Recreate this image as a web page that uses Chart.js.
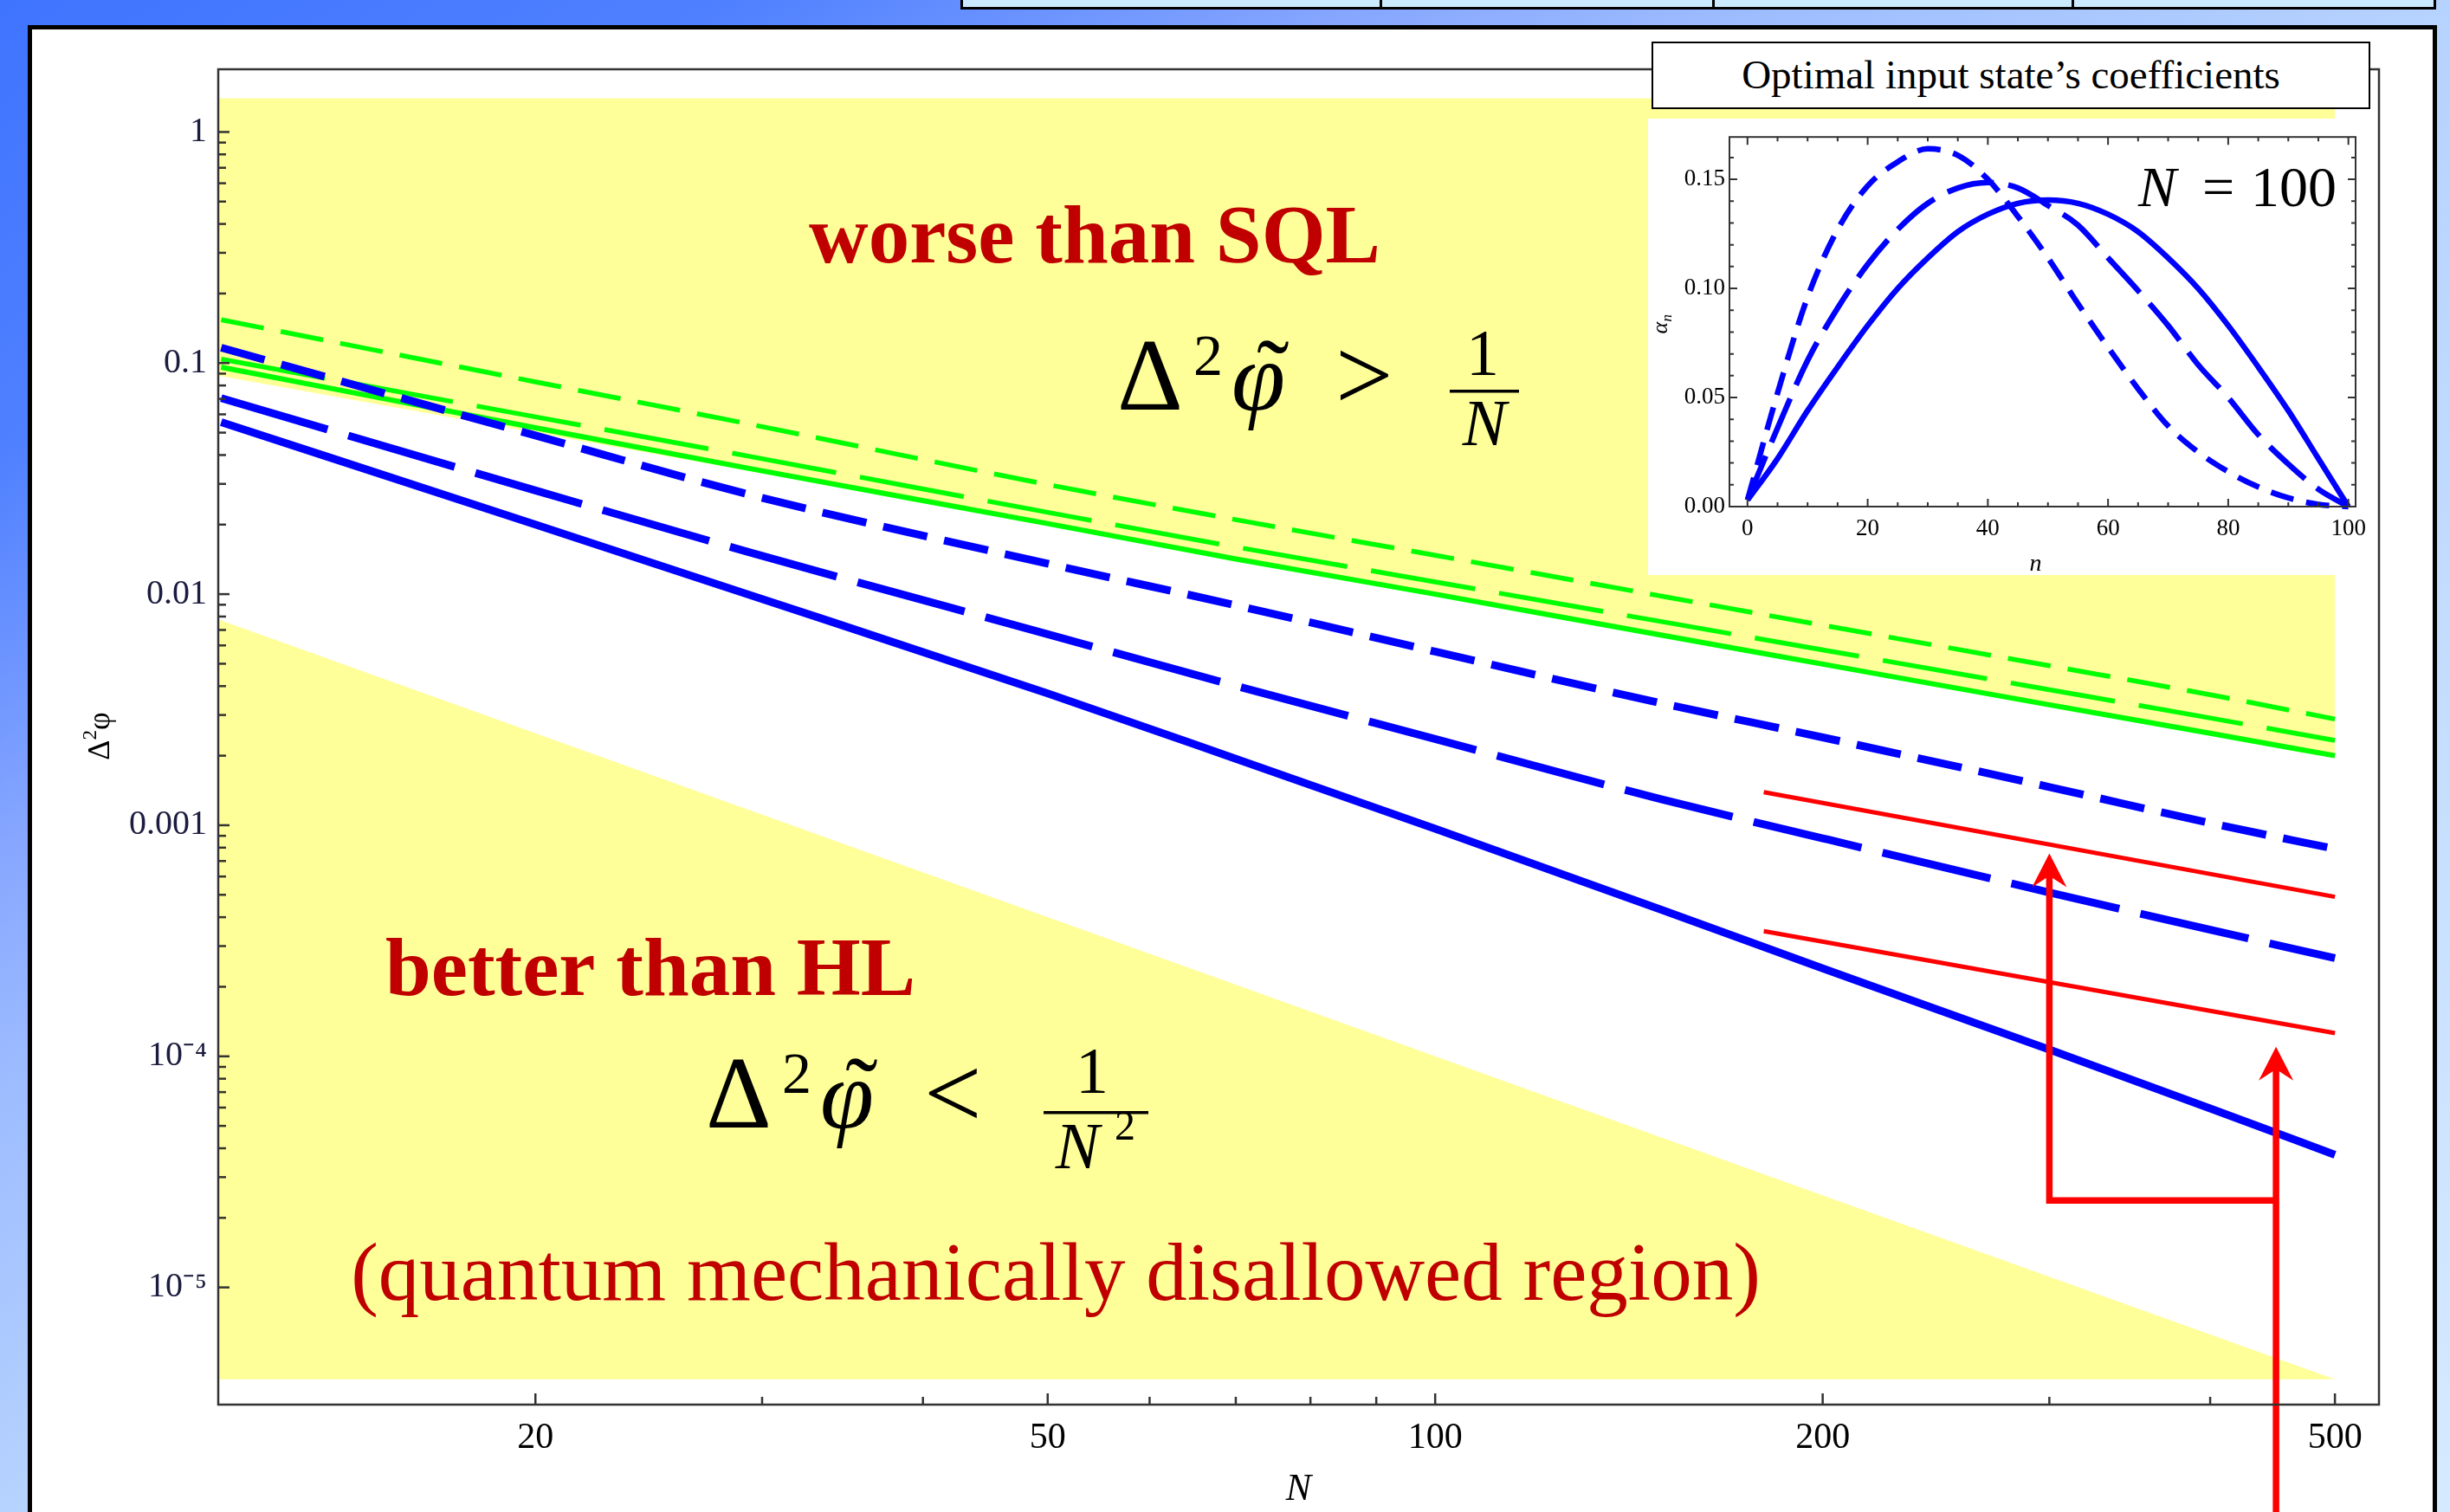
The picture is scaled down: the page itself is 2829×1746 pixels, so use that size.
<!DOCTYPE html>
<html>
<head>
<meta charset="utf-8">
<title>Phase sensitivity vs N</title>
<script src="https://cdn.jsdelivr.net/npm/chart.js@4.4.1/dist/chart.umd.min.js"></script>
<style>
  html, body { margin: 0; padding: 0; }
  body {
    width: 2829px; height: 1746px; overflow: hidden; position: relative;
    background: linear-gradient(to bottom right, #3f74ff 0%, #4f80ff 15%, #86a6ff 28%, #9dbcff 36%, #b6d2fe 50%, #d6eaff 100%);
  }
  .cell { position: absolute; top: -6px; height: 17px; background: #cbe9ff; border: 3px solid #000; box-sizing: border-box; }
  #panel { position: absolute; left: 32px; top: 29px; width: 2782px; height: 1800px; background: #fff; border: 5px solid #000; box-sizing: border-box; }
  #main { position: absolute; left: 0; top: 0; }
  #inset { position: absolute; left: 1903px; top: 137px; background: #fff; }
  #insetTitle {
    position: absolute; left: 1907px; top: 48px; width: 830px; height: 78px;
    box-sizing: border-box; border: 2px solid #000; background: #fff;
    font: 47px "Liberation Serif", serif; text-align: center; line-height: 72px;
  }
</style>
</head>
<body>
<div class="cell" style="left:1109px;width:487px"></div>
<div class="cell" style="left:1593px;width:387px"></div>
<div class="cell" style="left:1977px;width:418px"></div>
<div class="cell" style="left:2392px;width:421px"></div>
<div id="panel"></div>
<canvas id="main" width="2829" height="1746"></canvas>
<div id="insetTitle">Optimal input state’s coefficients</div>
<canvas id="inset" width="842" height="527"></canvas>
<script>
// ---- main plot: precision vs N ----
const nGrid      = [11.4, 20, 29.3, 50, 70, 100, 150, 200, 300, 400, 500];
const greenSolid = [0.096, 0.0525, 0.035, 0.0202, 0.0142, 0.0100, 0.00664, 0.00498, 0.00332, 0.0025, 0.0020];
const greenLong  = [0.104, 0.0585, 0.0395, 0.0226, 0.0160, 0.0113, 0.0076, 0.00574, 0.00386, 0.00291, 0.00233];
const greenShort = [0.154, 0.0829, 0.0545, 0.0298, 0.0210, 0.01473, 0.0098, 0.00734, 0.0049, 0.00367, 0.00288];
const blueSolid  = [0.0555, 0.0200, 0.00995, 0.00372, 0.00194, 0.000965, 0.00043, 0.00024, 0.000107, 0.0000595, 0.0000375];
const blueLong   = [0.0705, 0.0281, 0.0152, 0.00671, 0.00401, 0.00236, 0.001294, 0.000878, 0.000512, 0.000353, 0.000266];
const blueShort  = [0.1166, 0.0486, 0.0270, 0.01355, 0.00895, 0.00564, 0.00337, 0.0024, 0.001464, 0.001022, 0.00079];

// red asymptotes
const redN     = [180, 500];
const redUpper = [0.00139, 0.00049];
const redLower = [0.000348, 0.000126];

// shaded regions: SQL (1/N) and HL (1/N^2) at the ends of the N range
const boundN   = [11.34, 500];
const sqlBound = [0.0882, 0.002];
const hlBound  = [0.00778, 0.000004];
const shadeTop = 1.4;
const shadeBottom = 0.000004;

const xTickValues = [20, 50, 100, 200, 500];
const xTickLabels = ['20', '50', '100', '200', '500'];
const xMinorTicks = [30, 40, 60, 70, 80, 90, 300, 400];
const yTickValues = [1, 0.1, 0.01, 0.001, 1e-4, 1e-5];
const yTickLabels = ['1', '0.1', '0.01', '0.001', '10⁻⁴', '10⁻⁵'];

// arrows pointing at the asymptotes
const arrowN = [300, 450];
const arrowTip = [0.000755, 0.00011];
const bracketLevel = 0.0000238;

// ---- inset: optimal coefficients for N = 100 ----
const nIndex     = [0, 5, 10, 15, 20, 25, 30, 35, 40, 45, 50, 55, 60, 65, 70, 75, 80, 85, 90, 95, 100];
const alphaSolid = [0.003, 0.022, 0.044, 0.064, 0.083, 0.100, 0.114, 0.126, 0.134, 0.139, 0.1405, 0.139, 0.134, 0.126, 0.114, 0.100, 0.083, 0.064, 0.044, 0.022, 0.0];
const alphaLong  = [0.003, 0.036, 0.067, 0.091, 0.111, 0.127, 0.139, 0.146, 0.1485, 0.146, 0.138, 0.129, 0.114, 0.099, 0.083, 0.065, 0.050, 0.033, 0.0195, 0.008, 0.0];
const alphaShort = [0.003, 0.052, 0.096, 0.127, 0.147, 0.158, 0.164, 0.161, 0.150, 0.133, 0.114, 0.093, 0.073, 0.054, 0.037, 0.025, 0.016, 0.009, 0.004, 0.001, 0.0];
const insetXTicks = [0, 20, 40, 60, 80, 100];
const insetYTicks = [0, 0.05, 0.10, 0.15];
const insetYLabels = ['0.00', '0.05', '0.10', '0.15'];

const SERIF = '"Liberation Serif", "Times New Roman", serif';
Chart.defaults.font.family = SERIF;

const pts = (xs, ys) => xs.map((x, i) => ({x: x, y: ys[i]}));

// minor ticks (axis decoration)
const yMinorTicks = [];
for (let k = -5; k <= -1; k++) for (let m = 2; m <= 9; m++) yMinorTicks.push(m * Math.pow(10, k));
const insetXMinor = [];
for (let v = 5; v < 100; v += 5) if (v % 20) insetXMinor.push(v);
const insetYMinor = [];
for (let v = 1; v <= 16; v++) if (v % 5) insetYMinor.push(v / 100);

// frame + inward tick marks
const frameTicks = {
  id: 'frameTicks',
  afterDraw(chart, args, o) {
    const {ctx, chartArea: ca} = chart;
    const xs = chart.scales.x, ys = chart.scales.y;
    ctx.save();
    ctx.strokeStyle = o.color;
    ctx.lineWidth = o.width;
    ctx.strokeRect(ca.left, ca.top, ca.right - ca.left, ca.bottom - ca.top);
    const mark = (scale, vals, len) => {
      vals.forEach(v => {
        const p = scale.getPixelForValue(v);
        ctx.beginPath();
        if (scale.isHorizontal()) {
          ctx.moveTo(p, ca.bottom); ctx.lineTo(p, ca.bottom - len);
          if (o.mirror) { ctx.moveTo(p, ca.top); ctx.lineTo(p, ca.top + len); }
        } else {
          ctx.moveTo(ca.left, p); ctx.lineTo(ca.left + len, p);
          if (o.mirror) { ctx.moveTo(ca.right, p); ctx.lineTo(ca.right - len, p); }
        }
        ctx.stroke();
      });
    };
    mark(xs, o.xMajor, o.major);
    mark(xs, o.xMinor, o.minor);
    mark(ys, o.yMajor, o.major);
    mark(ys, o.yMinor, o.minor);
    ctx.restore();
  }
};

function txt(ctx, s, x, y, font, align) {
  ctx.font = font;
  ctx.textAlign = align || 'left';
  ctx.fillText(s, x, y);
}

// Δ²φ̃ (>|<) 1/N or 1/N²
function inequality(ctx, x, y, rel, squared) {
  ctx.fillStyle = '#000';
  txt(ctx, 'Δ', x, y, '118px ' + SERIF);
  txt(ctx, '2', x + 88, y - 40, '68px ' + SERIF);
  txt(ctx, 'φ', x + 132, y, 'italic 112px ' + SERIF);
  txt(ctx, '˜', x + 180, y - 4, '112px ' + SERIF, 'center');
  txt(ctx, rel, x + 252, y, '118px ' + SERIF);
  if (squared) {
    ctx.fillRect(x + 390, y - 19, 121, 3.5);
    txt(ctx, '1', x + 446, y - 40, '76px ' + SERIF, 'center');
    txt(ctx, 'N', x + 429, y + 47, 'italic 76px ' + SERIF, 'center');
    txt(ctx, '2', x + 472, y + 14, '48px ' + SERIF);
  } else {
    ctx.fillRect(x + 384, y - 23, 80, 3.5);
    txt(ctx, '1', x + 422, y - 40, '76px ' + SERIF, 'center');
    txt(ctx, 'N', x + 424, y + 41, 'italic 76px ' + SERIF, 'center');
  }
}

const mainNotes = {
  id: 'mainNotes',
  afterDatasetsDraw(chart) {
    const {ctx} = chart;
    const xs = chart.scales.x, ys = chart.scales.y;
    ctx.save();
    ctx.textBaseline = 'alphabetic';
    ctx.fillStyle = '#c00000';
    txt(ctx, 'worse than SQL', 1264, 303, 'bold 95px ' + SERIF, 'center');
    txt(ctx, 'better than HL', 751, 1149, 'bold 95px ' + SERIF, 'center');
    txt(ctx, '(quantum mechanically disallowed region)', 1219, 1501, '95px ' + SERIF, 'center');
    inequality(ctx, 1290, 473, '>', false);
    inequality(ctx, 815, 1302, '<', true);

    // red arrows
    const x1 = xs.getPixelForValue(arrowN[0]), x2 = xs.getPixelForValue(arrowN[1]);
    const t1 = ys.getPixelForValue(arrowTip[0]), t2 = ys.getPixelForValue(arrowTip[1]);
    const yb = ys.getPixelForValue(bracketLevel);
    ctx.strokeStyle = '#ff0000';
    ctx.fillStyle = '#ff0000';
    ctx.lineWidth = 7.5;
    ctx.lineJoin = 'miter';
    ctx.beginPath();
    ctx.moveTo(x1, t1 + 24);
    ctx.lineTo(x1, yb);
    ctx.lineTo(x2, yb);
    ctx.stroke();
    ctx.beginPath();
    ctx.moveTo(x2, t2 + 24);
    ctx.lineTo(x2, chart.height);
    ctx.stroke();
    [[x1, t1], [x2, t2]].forEach(([x, t]) => {
      ctx.beginPath();
      ctx.moveTo(x, t);
      ctx.lineTo(x + 20, t + 39);
      ctx.lineTo(x, t + 26);
      ctx.lineTo(x - 20, t + 39);
      ctx.closePath();
      ctx.fill();
    });
    ctx.restore();
  },
  afterDraw(chart) {
    const {ctx, chartArea: ca} = chart;
    ctx.save();
    ctx.fillStyle = '#000';
    ctx.textBaseline = 'alphabetic';
    txt(ctx, 'N', (ca.left + ca.right) / 2, 1732, 'italic 44px ' + SERIF, 'center');
    // y axis title Δ²φ, rotated
    ctx.translate(126, 850);
    ctx.rotate(-Math.PI / 2);
    ctx.font = '36px ' + SERIF;
    const wD = ctx.measureText('Δ').width, wP = ctx.measureText('φ').width;
    ctx.font = '23px ' + SERIF;
    const w2 = ctx.measureText('2').width;
    let px = -(wD + w2 + wP) / 2;
    txt(ctx, 'Δ', px, 0, '36px ' + SERIF); px += wD;
    txt(ctx, '2', px, -15, '23px ' + SERIF); px += w2;
    txt(ctx, 'φ', px, 0, '36px ' + SERIF);
    ctx.restore();
  }
};

function curve(label, ys, color, width, dash) {
  return {
    label: label, data: pts(nGrid, ys), borderColor: color, borderWidth: width,
    borderDash: dash, borderCapStyle: 'butt', pointRadius: 0, fill: false,
    cubicInterpolationMode: 'monotone', order: color === '#00ff00' ? 6 : 3
  };
}

new Chart(document.getElementById('main'), {
  type: 'line',
  data: {
    datasets: [
      { label: 'worse than SQL', data: pts(boundN, sqlBound), borderWidth: 0, borderColor: 'rgba(0,0,0,0)',
        pointRadius: 0, backgroundColor: '#ffff99', fill: {value: shadeTop}, order: 20 },
      { label: 'better than HL', data: pts(boundN, hlBound), borderWidth: 0, borderColor: 'rgba(0,0,0,0)',
        pointRadius: 0, backgroundColor: '#ffff99', fill: {value: shadeBottom}, order: 20 },
      curve('green solid', greenSolid, '#00ff00', 6, []),
      curve('green long dash', greenLong, '#00ff00', 5.5, [122, 28]),
      curve('green short dash', greenShort, '#00ff00', 5.5, [50, 20]),
      curve('blue solid', blueSolid, '#0000ff', 9, []),
      curve('blue long dash', blueLong, '#0000ff', 9, [128, 25]),
      curve('blue short dash', blueShort, '#0000ff', 9, [52, 20]),
      { label: 'bound 1', data: pts(redN, redUpper), borderColor: '#ff0000', borderWidth: 5, pointRadius: 0, fill: false, order: 1 },
      { label: 'bound 2', data: pts(redN, redLower), borderColor: '#ff0000', borderWidth: 5, pointRadius: 0, fill: false, order: 1 }
    ]
  },
  options: {
    responsive: false, animation: false, devicePixelRatio: 1, events: [],
    layout: { padding: { left: 0, top: 80, right: 82, bottom: 0 } },
    plugins: {
      legend: { display: false }, tooltip: { enabled: false },
      frameTicks: { color: '#333', width: 2.5, major: 13, minor: 9, mirror: false,
        xMajor: xTickValues, xMinor: xMinorTicks, yMajor: yTickValues, yMinor: yMinorTicks }
    },
    scales: {
      x: {
        type: 'logarithmic', min: 11.34, max: 541,
        grid: { display: false, drawTicks: false, tickLength: 0 }, border: { display: false },
        afterBuildTicks: s => { s.ticks = xTickValues.map(v => ({value: v})); },
        afterFit: s => { s.height = 124; },
        ticks: { callback: v => xTickLabels[xTickValues.indexOf(v)], padding: 14, color: '#000',
          font: { size: 42 }, maxRotation: 0, autoSkip: false }
      },
      y: {
        type: 'logarithmic', min: 3.11e-6, max: 1.868,
        grid: { display: false, drawTicks: false, tickLength: 0 }, border: { display: false },
        afterBuildTicks: s => { s.ticks = yTickValues.map(v => ({value: v})); },
        afterFit: s => { s.width = 252; },
        ticks: { callback: v => yTickLabels[yTickValues.indexOf(v)], padding: 13, color: '#1c1c40',
          font: { size: 40 }, autoSkip: false }
      }
    }
  },
  plugins: [frameTicks, mainNotes]
});

const insetNotes = {
  id: 'insetNotes',
  afterDraw(chart) {
    const {ctx, chartArea: ca} = chart;
    ctx.save();
    ctx.fillStyle = '#000';
    ctx.textBaseline = 'alphabetic';
    txt(ctx, 'N', ca.right - 251, ca.top + 80, 'italic 66px ' + SERIF);
    txt(ctx, '=', ca.right - 177, ca.top + 80, '66px ' + SERIF);
    txt(ctx, '100', ca.right - 22, ca.top + 80, '66px ' + SERIF, 'right');
    txt(ctx, 'n', (ca.left + ca.right) / 2 - 8, 522, 'italic 28px ' + SERIF, 'center');
    ctx.translate(22, (ca.top + ca.bottom) / 2 + 6);
    ctx.rotate(-Math.PI / 2);
    txt(ctx, 'α', -8, 0, 'italic 26px ' + SERIF);
    txt(ctx, 'n', 6, 5, 'italic 17px ' + SERIF);
    ctx.restore();
  }
};

function icurve(label, ys, dash) {
  return { label: label, data: pts(nIndex, ys), borderColor: '#0000ff', borderWidth: 6.5, borderDash: dash,
    borderCapStyle: 'butt', pointRadius: 0, fill: false, cubicInterpolationMode: 'monotone', clip: false };
}

new Chart(document.getElementById('inset'), {
  type: 'line',
  data: {
    datasets: [
      icurve('solid', alphaSolid, []),
      icurve('long dash', alphaLong, [55, 17]),
      icurve('short dash', alphaShort, [27, 15])
    ]
  },
  options: {
    responsive: false, animation: false, devicePixelRatio: 1, events: [],
    layout: { padding: { left: 0, top: 3, right: 25, bottom: 0 } },
    plugins: {
      legend: { display: false }, tooltip: { enabled: false },
      frameTicks: { color: '#333', width: 2, major: 9, minor: 5, mirror: true,
        xMajor: insetXTicks, xMinor: insetXMinor, yMajor: insetYTicks, yMinor: insetYMinor }
    },
    scales: {
      x: {
        type: 'linear', min: -3, max: 101.2,
        grid: { display: false, drawTicks: false, tickLength: 0 }, border: { display: false },
        afterBuildTicks: s => { s.ticks = insetXTicks.map(v => ({value: v})); },
        afterFit: s => { s.height = 79; },
        ticks: { padding: 10, color: '#000', font: { size: 27 }, maxRotation: 0, autoSkip: false }
      },
      y: {
        type: 'linear', min: 0, max: 0.1694,
        grid: { display: false, drawTicks: false, tickLength: 0 }, border: { display: false },
        afterBuildTicks: s => { s.ticks = insetYTicks.map(v => ({value: v})); },
        afterFit: s => { s.width = 94; },
        ticks: { callback: v => insetYLabels[insetYTicks.indexOf(v)], padding: 5, color: '#000',
          font: { size: 27 }, autoSkip: false }
      }
    }
  },
  plugins: [frameTicks, insetNotes]
});
</script>
</body>
</html>
